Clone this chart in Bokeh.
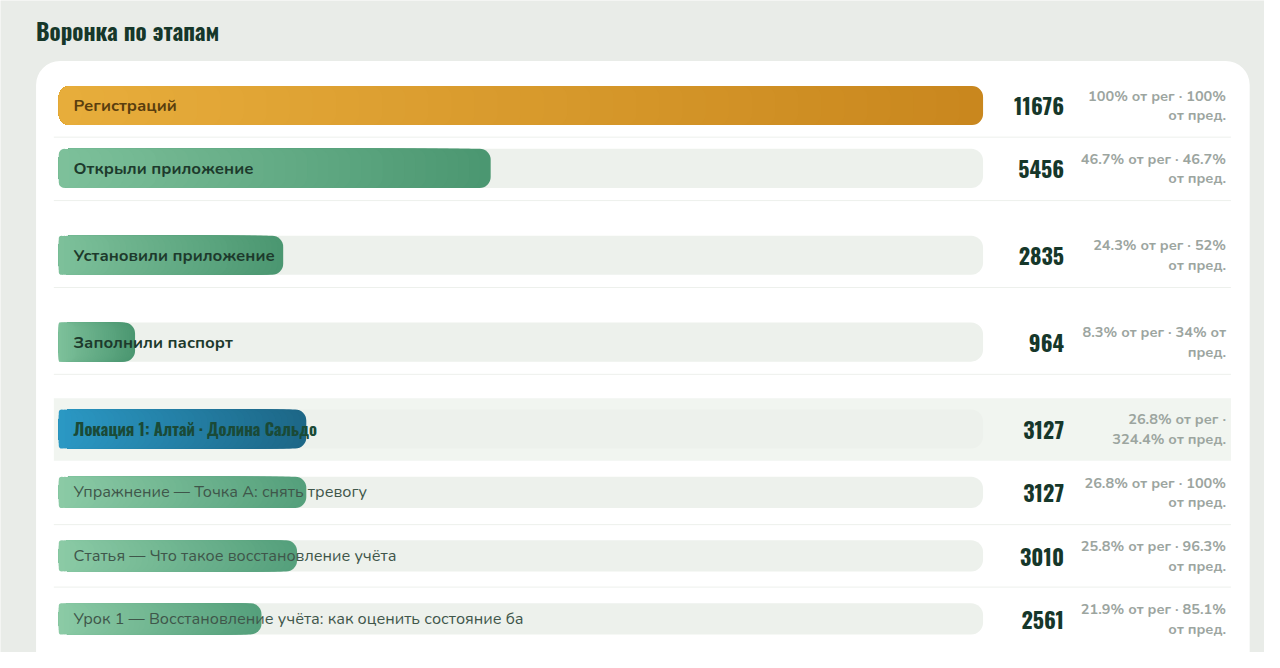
import textwrap
from bokeh.plotting import figure
from bokeh.models import Range1d
from bokeh.core.properties import value
from bokeh.embed import file_html
from bokeh.resources import INLINE

# ---------------- data ----------------
title = "Воронка по этапам"
stages = [
    "Регистраций",
    "Открыли приложение",
    "Установили приложение",
    "Заполнили паспорт",
    "Локация 1: Алтай · Долина Сальдо",
    "Упражнение — Точка А: снять тревогу",
    "Статья — Что такое восстановление учёта",
    "Урок 1 — Восстановление учёта: как оценить состояние ба",
]
counts = [11676, 5456, 2835, 964, 3127, 3127, 3010, 2561]
kinds = ["reg", "stage", "stage", "stage", "location", "lesson", "lesson", "lesson"]

# ---------------- layout (reference pixels) ----------------
W, H = 1264, 652
row_y = [107.5, 172, 261, 350, 439, 504, 569, 633.5]
sep_y = [140, 205, 294, 383, 537, 601]
TRACK_L, TRACK_R = 59, 995
vmax = max(counts)

BG = "#e9ece8"
palette = {
    "reg": ("#e8ae3c", "#c9871e"),
    "stage": ("#7ec19b", "#4b9771"),
    "location": ("#2b99c5", "#1d6787"),
    "lesson": ("#8ccba6", "#55a07c"),
}
label_color = {"reg": "#5a3e0e", "stage": "#1d3a2c", "location": "#1a4a37", "lesson": "#3f564a"}
bar_h = {"reg": 40, "stage": 40, "location": 40, "lesson": 32}
BODY_FONT = "Nunito, 'Noto Sans', sans-serif"
COND_FONT = "Oswald, 'Roboto Condensed', sans-serif"


def fmt(x):
    s = f"{x:.1f}"
    if s.endswith(".0"):
        s = s[:-2]
    return s + "%"


pct_lines1, pct_lines2 = [], []
for i, c in enumerate(counts):
    reg = c / counts[0] * 100
    prev = 100.0 if i == 0 else c / counts[i - 1] * 100
    lines = textwrap.wrap(f"{fmt(reg)} от рег · {fmt(prev)} от пред.", 20)
    pct_lines1.append(lines[0])
    pct_lines2.append(lines[1] if len(lines) > 1 else "")


def hex2rgb(h):
    h = h.lstrip("#")
    return tuple(int(h[j:j + 2], 16) for j in (0, 2, 4))


def mix(a, b, t):
    ra, rb = hex2rgb(a), hex2rgb(b)
    return "#%02x%02x%02x" % tuple(round(ra[j] + (rb[j] - ra[j]) * t) for j in range(3))


# ---------------- figure ----------------
p = figure(width=W, height=H, output_backend="svg", toolbar_location=None,
           x_range=Range1d(0, 1280), y_range=Range1d(668, 0),
           min_border=0, outline_line_color=None, background_fill_color=BG,
           border_fill_color=BG)
p.axis.visible = False
p.grid.visible = False

# value scale: 0 -> track left, vmax -> track right
scale = vmax / (TRACK_R - TRACK_L)
p.extra_x_ranges = {"val": Range1d(-TRACK_L * scale, (1280 - TRACK_L) * scale)}

# title
p.text(x=[36], y=[31], text=[title], text_font=value(COND_FONT),
       text_font_style="bold", text_font_size="23px", text_color="#16372a",
       text_align="left", text_baseline="middle")

# card
p.quad(left=[36], right=[1265], top=[62], bottom=[760], fill_color="white",
       line_color=None, border_radius=24)

# location highlight
loc_rows = [row_y[i] for i, k in enumerate(kinds) if k == "location"]
p.quad(left=[54] * len(loc_rows), right=[1246] * len(loc_rows),
       top=[y - 31.5 for y in loc_rows], bottom=[y + 32.5 for y in loc_rows],
       fill_color="#f1f5f0", line_color=None)

# separators
p.segment(x0=[54] * len(sep_y), x1=[1246] * len(sep_y), y0=sep_y, y1=sep_y,
          line_color="#edf0ec", line_width=1)

heights = [bar_h[k] for k in kinds]

# tracks
p.hbar(y=row_y, height=heights, left=0, right=[vmax] * len(counts), x_range_name="val",
       fill_color="#edf1ec", line_color=None, border_radius=12)

# bars with gradient (stacked layers, longest first)
N = 40
for k in range(N):
    t = 1 - k / N
    rights = [c * t for c in counts]
    cols = [mix(palette[kd][0], palette[kd][1], t) for kd in kinds]
    p.hbar(y=row_y, height=heights, left=0, right=rights, x_range_name="val",
           fill_color=cols, line_color=None, border_radius=11)

# labels
for i, s in enumerate(stages):
    kd = kinds[i]
    if kd == "location":
        font, style, size = COND_FONT, "bold", "16.5px"
    elif kd == "lesson":
        font, style, size = BODY_FONT, "normal", "16.2px"
    else:
        font, style, size = BODY_FONT, "bold", "16.6px"
    p.text(x=[74], y=[row_y[i]], text=[s], text_font=value(font), text_font_style=style,
           text_font_size=size, text_color=label_color[kd], text_align="left",
           text_baseline="middle")

# counts
p.text(x=[1077] * len(counts), y=[y + 1 for y in row_y], text=[str(c) for c in counts],
       text_font=value(COND_FONT), text_font_style="bold",
       text_font_size="22px", text_color="#16372a", text_align="right",
       text_baseline="middle")

# percentages
for dy, lines in ((-10, pct_lines1), (10, pct_lines2)):
    p.text(x=[1241] * len(counts), y=[y + dy for y in row_y], text=lines,
           text_font=value(BODY_FONT), text_font_style="bold", text_font_size="14.5px",
           text_color="#9ca59f", text_align="right", text_baseline="middle")

html = file_html(p, INLINE)
html = html.replace("<body>", '<body style="background:%s">' % BG, 1)
open("out.html", "w").write(html)
